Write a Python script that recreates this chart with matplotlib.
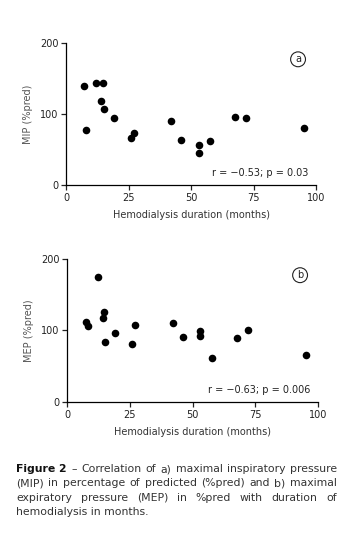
import matplotlib.pyplot as plt

# Hemodialysis duration (months) and respiratory pressures (%pred)
mip_months = [7, 8, 12, 14.7, 14, 15, 19, 26, 27, 42, 46, 53, 53, 57.7, 67.6, 72, 95]
mip_pred = [139.5, 78, 144, 144, 118, 107, 95, 66, 73.5, 90, 64, 56, 45, 62, 96, 95, 80]

mep_months = [7.3, 8.1, 12.4, 14.3, 14.7, 15.1, 19.1, 26, 27, 42, 46, 53, 53, 57.8, 67.6, 72, 95]
mep_pred = [112, 106, 174, 117, 126, 83.5, 96.5, 80.5, 107, 111, 90.5, 99.5, 93, 61, 89.5, 100.5, 65.5]

x_ticks = [0, 25, 50, 75, 100]
y_ticks = [0, 100, 200]

panels = [
    dict(x=mip_months, y=mip_pred, ylabel='MIP (%pred)', tag='a',
         stats='r = \u22120.53; p = 0.03', rect=[0.189, 0.660, 0.714, 0.261]),
    dict(x=mep_months, y=mep_pred, ylabel='MEP (%pred)', tag='b',
         stats='r = \u22120.63; p = 0.006', rect=[0.192, 0.2605, 0.717, 0.264]),
]

plt.rcParams['font.family'] = ['DejaVu Sans']

fig = plt.figure(figsize=(3.5, 5.44), dpi=100)

for p in panels:
    ax = fig.add_axes(p['rect'])
    ax.scatter(p['x'], p['y'], s=30, color='black', zorder=3, linewidths=0)
    ax.set_xlim(0, 100)
    ax.set_ylim(0, 200)
    ax.set_xticks(x_ticks)
    ax.set_yticks(y_ticks)
    ax.spines['top'].set_visible(False)
    ax.spines['right'].set_visible(False)
    for s in ('left', 'bottom'):
        ax.spines[s].set_linewidth(0.9)
    ax.tick_params(direction='out', length=3.5, width=0.9, labelsize=7,
                   pad=2, colors='#222222')
    ax.set_xlabel('Hemodialysis duration (months)', fontsize=7, color='#333333', labelpad=5)
    ax.set_ylabel(p['ylabel'], fontsize=7, color='#555555', labelpad=5)
    ax.text(97, 10, p['stats'], ha='right', va='bottom', fontsize=7, color='#222222')
    # circled panel letter
    ax.text(0.928, 0.885, p['tag'], transform=ax.transAxes, ha='center', va='center',
            fontsize=7, color='#222222',
            bbox=dict(boxstyle='circle,pad=0.25', fc='white', ec='#222222', lw=0.8))

# justified caption
caption = [
    [('Figure 2', 'bold'), ('\u2013', 'normal'), ('Correlation', 'normal'), ('of', 'normal'),
     ('a)', 'normal'), ('maximal', 'normal'), ('inspiratory', 'normal'), ('pressure', 'normal')],
    '(MIP) in percentage of predicted (%pred) and b) maximal',
    'expiratory pressure (MEP) in %pred with duration of',
    'hemodialysis in months.',
]
left_px, right_px = 16, 337
line_y = [469, 483, 498, 512]
W, H = 350, 544
fig.canvas.draw()
renderer = fig.canvas.get_renderer()
for i, line in enumerate(caption):
    if isinstance(line, str):
        words = [(w, 'normal') for w in line.split()]
    else:
        words = line
    y = 1 - line_y[i] / H
    if i == len(caption) - 1:
        fig.text(left_px / W, y, ' '.join(w for w, _ in words), fontsize=7.8,
                 color='#333333', va='center', ha='left')
        continue
    objs = []
    for w, wt in words:
        t = fig.text(0, y, w, fontsize=7.8, fontweight=wt, va='center', ha='left',
                     color='#111111' if wt == 'bold' else '#333333')
        objs.append(t)
    widths = [t.get_window_extent(renderer).width for t in objs]
    gap = (right_px - left_px - sum(widths)) / (len(objs) - 1)
    x = left_px
    for t, wd in zip(objs, widths):
        t.set_x(x / W)
        x += wd + gap

fig.savefig('out.png', dpi=100)
